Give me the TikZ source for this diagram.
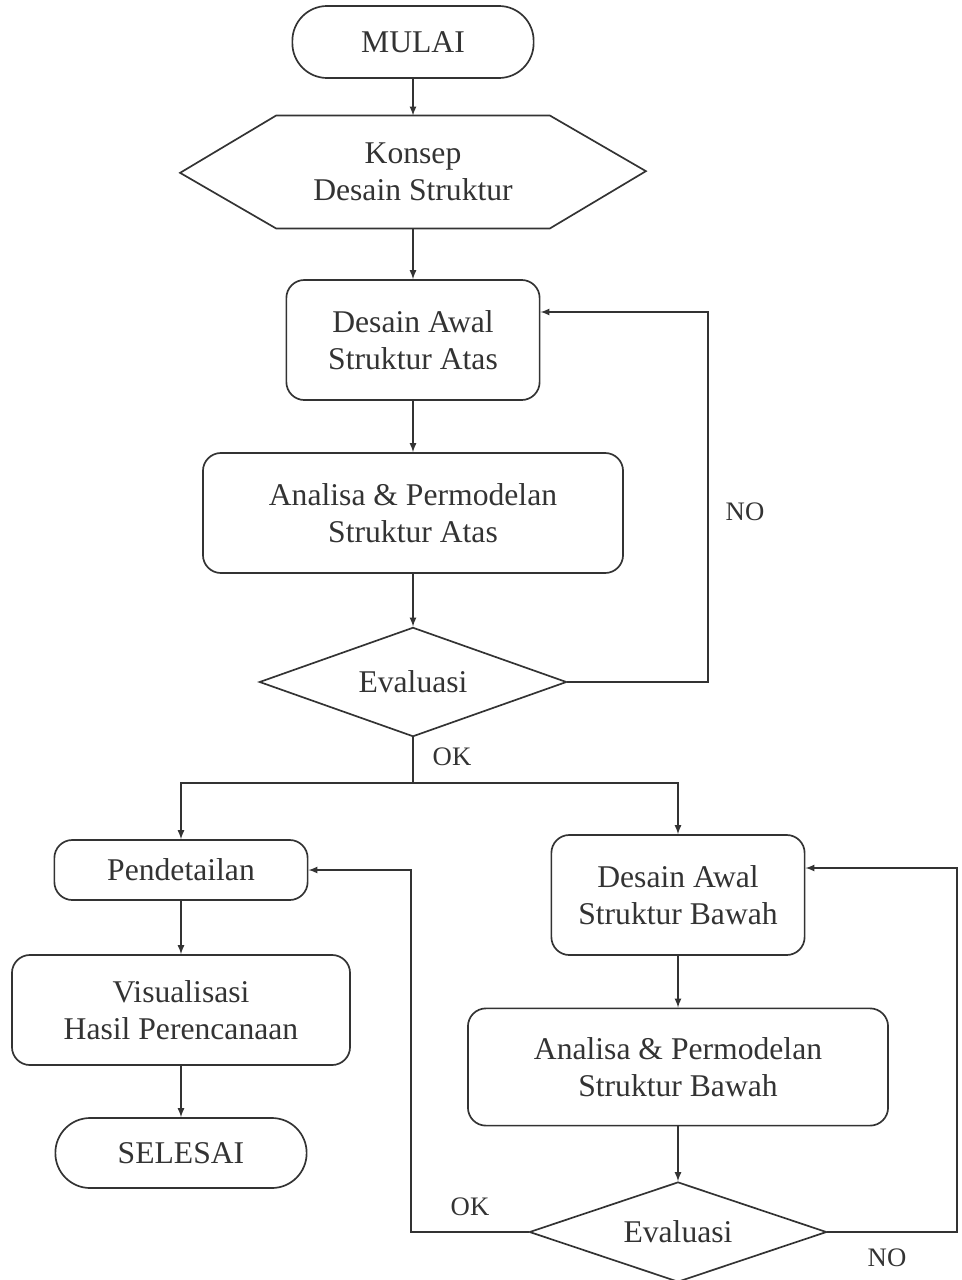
\documentclass[tikz,border=0pt]{standalone}
\usepackage{fontspec}
\setmainfont{Liberation Serif}
\usetikzlibrary{shapes.geometric}

\begin{document}
\begin{tikzpicture}[x=0.025cm, y=-0.025cm, line width=1.2pt, color=black!80,
  proses/.style={draw, rounded corners=0.45cm, align=center, font=\fontsize{22.5}{26}\selectfont},
  terminal/.style={draw, rounded corners=0.87cm, align=center, font=\fontsize{22.5}{26}\selectfont},
  keputusan/.style={draw, diamond, aspect=2.8, inner sep=0pt, font=\fontsize{22.5}{26}\selectfont},
  ket/.style={font=\fontsize{19}{22}\selectfont}]

\useasboundingbox (0,0) rectangle (961,1280);

% jalur utama
\node[terminal, minimum width=6.03cm, minimum height=1.8cm] (mulai) at (413,42) {MULAI};
\node[align=center, minimum width=6.8cm, minimum height=2.78cm, font=\fontsize{22.5}{26}\selectfont] (konsep) at (413,172) {Konsep\\Desain Struktur};
\draw (konsep.north west) -- (konsep.north east) -- ++(2.4cm,-1.39cm) -- (konsep.south east)
  -- (konsep.south west) -- ++(-2.4cm,1.39cm) -- cycle;
\node[proses, minimum width=6.33cm, minimum height=3cm] (desainA) at (413,340) {Desain Awal\\Struktur Atas};
\node[proses, minimum width=10.5cm, minimum height=3cm] (analisaA) at (413,513) {Analisa \& Permodelan\\Struktur Atas};
\node[keputusan, minimum width=7.68cm, minimum height=2.73cm] (evalA) at (413,682) {Evaluasi};

% cabang kiri
\node[proses, minimum width=6.33cm, minimum height=1.5cm] (pendetail) at (181,870) {Pendetailan};
\node[proses, minimum width=8.45cm, minimum height=2.75cm] (visual) at (181,1010) {Visualisasi\\Hasil Perencanaan};
\node[terminal, minimum width=6.28cm, minimum height=1.75cm] (selesai) at (181,1153) {SELESAI};

% cabang kanan
\node[proses, minimum width=6.33cm, minimum height=3cm] (desainB) at (678,895) {Desain Awal\\Struktur Bawah};
\node[proses, minimum width=10.5cm, minimum height=2.93cm] (analisaB) at (678,1067) {Analisa \& Permodelan\\Struktur Bawah};
\node[keputusan, minimum width=7.43cm, minimum height=2.5cm] (evalB) at (678,1232) {Evaluasi};

\coordinate (noA) at (708,312);
\coordinate (split) at (413,783);
\coordinate (okB) at (411,1232);
\coordinate (noB) at (957,1232);
\coordinate (noBtop) at (957,868);

\draw[-latex] (mulai) -- (konsep);
\draw[-latex] (konsep) -- (desainA);
\draw[-latex] (desainA) -- (analisaA);
\draw[-latex] (analisaA) -- (evalA);
\draw[-latex] (evalA.east) -| (noA) -- (noA -| desainA.east);
\draw (evalA.south) -- (split);
\draw[-latex] (split) -| (pendetail.north);
\draw[-latex] (split) -| (desainB.north);

\draw[-latex] (pendetail) -- (visual);
\draw[-latex] (visual) -- (selesai);

\draw[-latex] (desainB) -- (analisaB);
\draw[-latex] (analisaB) -- (evalB);
\draw[-latex] (evalB.west) -- (okB) -- (okB |- pendetail.east) -- (pendetail.east);
\draw[-latex] (evalB.east) -- (noB) -- (noBtop) -- (noBtop -| desainB.east);

\node[ket] (noAlabel) at (745,512) {NO};
\node[ket] (okAlabel) at (452,757) {OK};
\node[ket] (okBlabel) at (470,1207) {OK};
\node[ket] (noBlabel) at (887,1258) {NO};

\end{tikzpicture}
\end{document}
